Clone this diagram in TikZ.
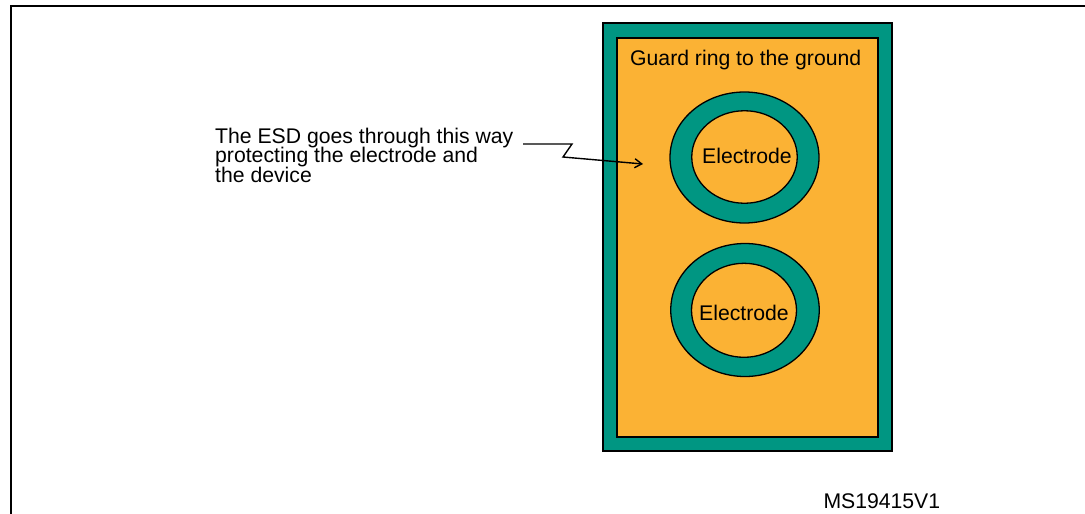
\documentclass[tikz,border=0pt]{standalone}
\usepackage{fontspec}
\setmainfont{Liberation Sans}
\usetikzlibrary{shapes.geometric,arrows.meta}
\definecolor{ringteal}{RGB}{0,150,130}
\definecolor{padorange}{RGB}{251,178,52}
\newcommand{\tightlines}{\lineskiplimit=-20pt\relax\lineskip=0pt\relax}
\tikzset{
  lbl/.style={font=\fontsize{21.2}{19.5}\selectfont\tightlines, inner sep=0pt, text=black},
  plate/.style={draw=black, line width=1.2pt, rectangle, inner sep=0pt},
  ringshape/.style={draw=black, line width=1.3pt, ellipse, inner sep=0pt},
  esdarrow/.style={draw=black, line width=1.4pt, -{Straight Barb[length=7pt,width=9pt]}}
}
\begin{document}
\begin{tikzpicture}[x=1pt,y=-1pt]
\useasboundingbox (0,0) rectangle (1085,514);
% frame
\draw[line width=2.2pt] (11,514) -- (11,6) -- (1085,6);
% guard ring plate
\node[plate, fill=ringteal, minimum width=289pt, minimum height=428pt] (outer) at (747.5,237) {};
\node[plate, fill=padorange, minimum width=261pt, minimum height=399pt] (inner) at (747.5,237.5) {};
\node[lbl, anchor=base west] (guard) at (630,65) {Guard ring to the ground};
% electrode 1
\node[ringshape, fill=ringteal, minimum width=149pt, minimum height=131pt] (ring1) at (744.5,157.5) {};
\node[ringshape, fill=padorange, minimum width=105.5pt, minimum height=92.5pt] (el1) at (744.5,157) {};
\node[lbl, anchor=base] (el1text) at (747,163.3) {Electrode};
% electrode 2
\node[ringshape, fill=ringteal, minimum width=148.5pt, minimum height=133pt] (ring2) at (745,310) {};
\node[ringshape, fill=padorange, minimum width=105pt, minimum height=94pt] (el2) at (744,310.3) {};
\node[lbl, anchor=base] (el2text) at (744,320.7) {Electrode};
% ESD note
\node[lbl, anchor=base west, align=left] (esd) at (215,182.3) {The ESD goes through this way\\protecting the electrode and\\the device};
\coordinate (esdstart) at (523,144);
\coordinate (esdtip) at (643,164);
\draw[esdarrow] (esdstart) -- (572,144) -- (563,157) -- (esdtip);
% id
\node[lbl, anchor=base west] (msid) at (823.3,508) {MS19415V1};
\end{tikzpicture}
\end{document}
